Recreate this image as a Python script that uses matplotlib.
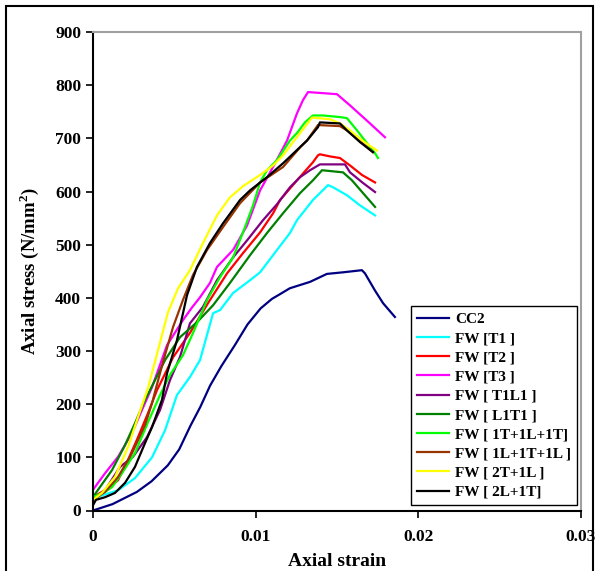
import numpy as np
import matplotlib
matplotlib.use("Agg")
import matplotlib.pyplot as plt
from matplotlib.patches import Rectangle

plt.rcParams['font.family'] = ['Liberation Serif', 'DejaVu Serif']
plt.rcParams['font.weight'] = 'bold'
plt.rcParams['mathtext.fontset'] = 'custom'
plt.rcParams['mathtext.rm'] = 'Liberation Serif:bold'
plt.rcParams['mathtext.bf'] = 'Liberation Serif:bold'

# strain / stress points
cc2_x = [0, 0.0012, 0.0027, 0.0036, 0.0046, 0.0053, 0.006, 0.0066, 0.0072, 0.0079, 0.0087, 0.0095, 0.0103,
         0.011, 0.0115, 0.0121, 0.01334, 0.01438, 0.01537, 0.01653, 0.01672, 0.01733, 0.01783, 0.01856]
cc2_y = [0, 12, 35, 55, 85, 115, 160, 195, 235, 272, 310, 350, 380, 398, 407, 418, 430, 445, 448, 452, 446,
         414, 390, 364]

t1_x = [0, 0.00154, 0.00258, 0.00363, 0.00443, 0.00516, 0.00596, 0.00658, 0.00738, 0.00781, 0.00861,
        0.00965, 0.01027, 0.01131, 0.01211, 0.01254, 0.01352, 0.01445, 0.01475, 0.01561, 0.01641, 0.01734]
t1_y = [23, 38, 61, 100, 151, 217, 251, 283, 371, 377, 409, 433, 448, 490, 522, 546, 584, 612, 608, 593, 574, 555]

t2_x = [0, 0.00105, 0.00154, 0.00215, 0.00277, 0.00338, 0.00393, 0.00492, 0.00596, 0.00707, 0.00824, 0.00922,
        0.01027, 0.01107, 0.0115, 0.01254, 0.01352, 0.01383, 0.01395, 0.01457, 0.01518, 0.0158, 0.01654, 0.01734]
t2_y = [25, 44, 57, 95, 138, 183, 226, 288, 334, 390, 446, 484, 523, 559, 584, 621, 655, 668, 670, 666, 663,
        649, 631, 617]

t3_x = [0, 0.00074, 0.00154, 0.0024, 0.00301, 0.00363, 0.00455, 0.00553, 0.00609, 0.00658, 0.00719, 0.00762,
        0.00861, 0.00947, 0.01027, 0.01119, 0.01193, 0.01254, 0.01291, 0.01322, 0.01414, 0.015, 0.0158,
        0.01703, 0.01795]
t3_y = [39, 70, 101, 146, 189, 232, 311, 358, 382, 401, 428, 458, 490, 536, 602, 653, 696, 747, 772, 787, 785,
        783, 762, 728, 702]

t1l1_x = [0, 0.00074, 0.00166, 0.00246, 0.00332, 0.00412, 0.00473, 0.00535, 0.00596, 0.00676, 0.00762, 0.00861,
          0.00947, 0.01045, 0.01131, 0.01211, 0.01273, 0.01334, 0.01395, 0.01549, 0.0158, 0.0166, 0.01734]
t1l1_y = [20, 38, 82, 101, 138, 189, 245, 289, 352, 383, 433, 476, 508, 546, 576, 608, 627, 640, 651, 651, 636,
          616, 599]

l1t1_x = [0, 0.00031, 0.00117, 0.00197, 0.00258, 0.0032, 0.00381, 0.00443, 0.00535, 0.00639, 0.00738, 0.00842,
          0.00965, 0.0107, 0.01168, 0.01273, 0.01352, 0.01408, 0.01537, 0.01592, 0.0166, 0.01734]
l1t1_y = [25, 39, 76, 123, 164, 208, 245, 283, 326, 354, 386, 428, 480, 522, 559, 597, 621, 640, 636, 621, 597,
          571]

tlt_x = [0, 0.00074, 0.00117, 0.00178, 0.00258, 0.00338, 0.00412, 0.00473, 0.00553, 0.00615, 0.00701, 0.00781,
         0.00861, 0.00922, 0.00984, 0.01027, 0.0107, 0.01131, 0.01211, 0.01254, 0.01303, 0.01352, 0.01414,
         0.01518, 0.01561, 0.01623, 0.01684, 0.01734, 0.01752]
tlt_y = [25, 35, 44, 70, 108, 166, 217, 255, 292, 334, 396, 439, 476, 523, 574, 617, 640, 659, 696, 710, 730,
         743, 743, 740, 738, 715, 691, 672, 663]

ltl_x = [0, 0.00074, 0.00154, 0.0024, 0.0032, 0.00363, 0.0043, 0.00492, 0.00553, 0.00615, 0.00701, 0.00799,
         0.00904, 0.01027, 0.01168, 0.01273, 0.01316, 0.01383, 0.01518, 0.01561, 0.01641, 0.01721]
ltl_y = [20, 35, 63, 108, 161, 202, 279, 345, 396, 443, 490, 533, 578, 617, 646, 683, 696, 725, 723, 715, 695,
         674]

t2l_x = [0, 0.00055, 0.00135, 0.00215, 0.00277, 0.00338, 0.00399, 0.00461, 0.00523, 0.00596, 0.00676, 0.00762,
         0.00842, 0.00922, 0.01027, 0.01107, 0.01168, 0.01273, 0.01346, 0.01457, 0.01518, 0.0158, 0.01654, 0.01746]
t2l_y = [20, 33, 63, 119, 176, 230, 301, 373, 418, 452, 503, 555, 589, 610, 631, 649, 668, 710, 739, 736, 728,
         715, 696, 677]

l2t_x = [0, 0.00018, 0.00074, 0.00135, 0.00197, 0.00258, 0.0032, 0.00363, 0.00424, 0.00455, 0.00516, 0.00578,
         0.00639, 0.00719, 0.00799, 0.00904, 0.00965, 0.0107, 0.01168, 0.01254, 0.01316, 0.01383, 0.01395,
         0.01518, 0.01561, 0.01641, 0.01721]
l2t_y = [10, 20, 25, 33, 52, 82, 127, 157, 208, 258, 320, 405, 458, 503, 540, 584, 602, 627, 653, 678, 696, 721,
         730, 728, 715, 693, 674]

labels = ["CC2", "FW [T1 ]", "FW [T2 ]", "FW [T3 ]", "FW [ T1L1 ]", "FW [ L1T1 ]",
          "FW [ 1T+1L+1T]", "FW [ 1L+1T+1L ]", "FW [ 2T+1L ]", "FW [ 2L+1T]"]
colors = ['#000080', '#00ffff', '#ff0000', '#ff00ff', '#800080', '#008000',
          '#00ff00', '#993300', '#ffff00', '#000000']
series = [(cc2_x, cc2_y), (t1_x, t1_y), (t2_x, t2_y), (t3_x, t3_y), (t1l1_x, t1l1_y),
          (l1t1_x, l1t1_y), (tlt_x, tlt_y), (ltl_x, ltl_y), (t2l_x, t2l_y), (l2t_x, l2t_y)]

fig = plt.figure(figsize=(5.95, 5.71), dpi=100)
ax = fig.add_axes([93/595, 1 - 510.5/571, 488/595, 478.5/571])

for (x, y), c, lab in zip(series, colors, labels):
    ax.plot(x, y, color=c, lw=1.6, label=lab)

ax.set_xlim(0, 0.03)
ax.set_ylim(0, 900)
ax.set_xticks([0, 0.01, 0.02, 0.03])
ax.set_xticklabels(['0', '0.01', '0.02', '0.03'])
ax.set_yticks(range(0, 901, 100))
ax.tick_params(labelsize=12.5, length=5, width=1.2, direction='out')
ax.tick_params(axis='x', pad=8)
for s in ['left', 'bottom']:
    ax.spines[s].set_linewidth(1.5)
    ax.spines[s].set_color('black')
for s in ['top', 'right']:
    ax.spines[s].set_linewidth(1.5)
    ax.spines[s].set_color('#a0a0a0')

ax.set_xlabel('Axial strain', fontsize=14, fontweight='bold', labelpad=6)
ax.set_ylabel(r'Axial stress (N/mm$^{2}$)', fontsize=13.5, fontweight='bold', labelpad=10)

leg = ax.legend(loc='lower right', bbox_to_anchor=(0.992, 0.0115), borderaxespad=0, fontsize=11,
                labelspacing=0.36, handlelength=2.1, handletextpad=0.4, borderpad=0.4,
                fancybox=False, framealpha=1, edgecolor='black')
leg.get_frame().set_linewidth(1.0)

fig.add_artist(Rectangle((6/595, -0.1), 587/595, 1.1 - 6/571, transform=fig.transFigure,
                         fill=False, edgecolor='black', lw=1.5))

fig.savefig('out.png', dpi=100)
